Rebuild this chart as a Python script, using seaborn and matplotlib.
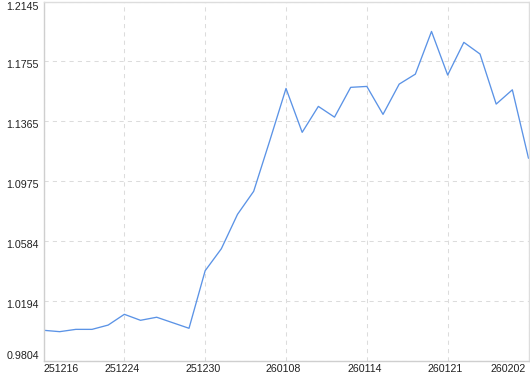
import numpy as np
import pandas as pd
import matplotlib
matplotlib.use("Agg")
import matplotlib.pyplot as plt
from matplotlib.transforms import ScaledTranslation
import seaborn as sns

# ---- data ----
values = [1.0004, 0.9995, 1.0010, 1.0010, 1.0038, 1.0108, 1.0069, 1.0089, 1.0053, 1.0017,
          1.0392, 1.0535, 1.0759, 1.0909, 1.1240, 1.1579, 1.1293, 1.1462, 1.1392, 1.1586,
          1.1592, 1.1410, 1.1607, 1.1672, 1.1950, 1.1666, 1.1879, 1.1803, 1.1477, 1.1570,
          1.1124]
x_tick_pos = [0, 5, 10, 15, 20, 25, 30]
x_tick_labels = ["251216", "251224", "251230", "260108", "260114", "260121", "260202"]
y_tick_labels = ["0.9804", "1.0194", "1.0584", "1.0975", "1.1365", "1.1755", "1.2145"]
y_min, y_max = 0.9804, 1.2145

df = pd.DataFrame({"idx": np.arange(len(values)), "value": values})

sns.set_style("white")
plt.rcParams["font.family"] = ["Liberation Sans", "DejaVu Sans"]

fig = plt.figure(figsize=(5.30, 3.74), dpi=100)
W, H = 530, 374
ax = fig.add_axes([43.5 / W, (H - 361) / H, (529 - 43.5) / W, (361 - 1.5) / H])

sns.lineplot(data=df, x="idx", y="value", ax=ax, color="#5b93e6", linewidth=0.95)

ax.set_xlim(0, 30.03)
ax.set_ylim(y_min, y_max)
ax.set_xlabel("")
ax.set_ylabel("")

ax.set_xticks(x_tick_pos)
ax.set_xticklabels(x_tick_labels)
ax.set_yticks(np.linspace(y_min, y_max, len(y_tick_labels)))
ax.set_yticklabels(y_tick_labels)

ax.tick_params(axis="both", length=0, labelsize=7.7, colors="#222222")
ax.tick_params(axis="x", pad=2)
ax.tick_params(axis="y", pad=3.3)

ax.grid(True, color="#dcdcdc", linestyle=(0, (4, 4)), linewidth=0.75)
ax.set_axisbelow(True)

for side in ["top", "right"]:
    ax.spines[side].set_color("#dddddd")
    ax.spines[side].set_linewidth(1)
for side in ["left", "bottom"]:
    ax.spines[side].set_color("#cfcfcf")
    ax.spines[side].set_linewidth(1)

# label alignment tweaks
xl = ax.get_xticklabels()
for lab in xl:
    lab.set_transform(lab.get_transform() + ScaledTranslation(-2.5 / 100, 0, fig.dpi_scale_trans))
xl[0].set_ha("left")
xl[0].set_transform(xl[0].get_transform() + ScaledTranslation(3 / 100, 0, fig.dpi_scale_trans))
xl[-1].set_ha("right")
xl[-1].set_transform(xl[-1].get_transform() + ScaledTranslation(-0.5 / 100, 0, fig.dpi_scale_trans))

yl = ax.get_yticklabels()
for lab in yl:
    lab.set_transform(lab.get_transform() + ScaledTranslation(0, -2.5 / 100, fig.dpi_scale_trans))
yl[0].set_va("bottom")
yl[0].set_transform(yl[0].get_transform() + ScaledTranslation(0, 2.5 / 100, fig.dpi_scale_trans))
yl[-1].set_va("top")
yl[-1].set_transform(yl[-1].get_transform() + ScaledTranslation(0, 2.5 / 100, fig.dpi_scale_trans))

fig.savefig("out.png", dpi=100)
